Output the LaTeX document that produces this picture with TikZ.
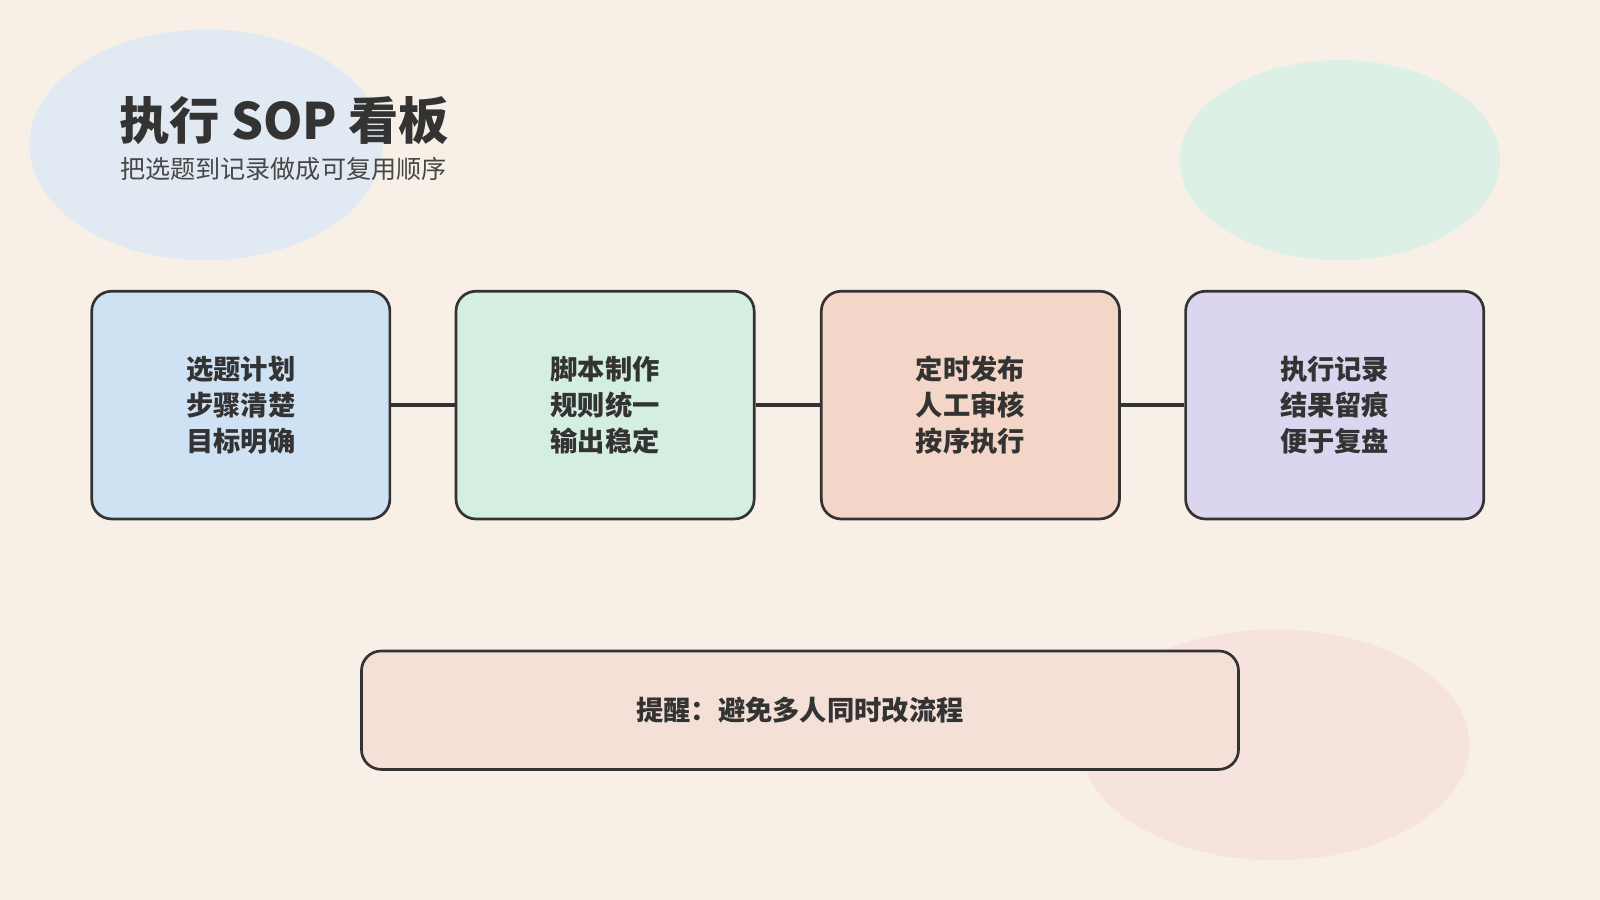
\documentclass[tikz,border=0pt]{standalone}
\usepackage{fontspec}
\setmainfont{Noto Sans CJK SC}
\usetikzlibrary{shapes.geometric}
\definecolor{bg}{HTML}{F8F0E6}
\definecolor{ink}{HTML}{333333}
\tikzset{
 stepbox/.style={draw=ink,line width=0.75pt,rounded corners=5.5pt,minimum width=2.92cm,minimum height=2.23cm,align=center,font=\fontsize{7.6pt}{10pt}\selectfont\bfseries,text=ink,inner sep=0pt},
 link/.style={draw=ink,line width=0.9pt},
 blob/.style={ellipse,draw=none,inner sep=0pt}
}
\begin{document}
\begin{tikzpicture}[x=0.01cm,y=-0.01cm]
\fill[bg] (0,0) rectangle (1568,882);
\useasboundingbox (0,0) rectangle (1568,882);
\node[blob,fill={rgb,255:red,225;green,234;blue,242},minimum width=3.46cm,minimum height=2.26cm] (b1) at (202,142) {};
\node[blob,fill={rgb,255:red,221;green,240;blue,230},minimum width=3.14cm,minimum height=1.96cm] (b2) at (1313,157) {};
\node[blob,fill={rgb,255:red,246;green,227;blue,221},minimum width=3.8cm,minimum height=2.26cm] (b3) at (1250,730) {};
\node[anchor=west,text=ink,font=\fontsize{14pt}{16pt}\selectfont\bfseries,inner sep=0pt] (title) at (116,118) {执行 SOP 看板};
\node[anchor=west,text=ink!90,font=\fontsize{7pt}{9pt}\selectfont,inner sep=0pt] (sub) at (117,166) {把选题到记录做成可复用顺序};
\node[stepbox,fill={rgb,255:red,207;green,226;blue,243}] (s1) at (236,397) {选题计划\\步骤清楚\\目标明确};
\node[stepbox,fill={rgb,255:red,212;green,238;blue,224}] (s2) at (593,397) {脚本制作\\规则统一\\输出稳定};
\node[stepbox,fill={rgb,255:red,244;green,214;blue,200}] (s3) at (951,397) {定时发布\\人工审核\\按序执行};
\node[stepbox,fill={rgb,255:red,220;green,213;blue,239}] (s4) at (1308,397) {执行记录\\结果留痕\\便于复盘};
\draw[link] (s1) -- (s2);
\draw[link] (s2) -- (s3);
\draw[link] (s3) -- (s4);
\node[stepbox,fill={rgb,255:red,244;green,224;blue,214},minimum width=8.59cm,minimum height=1.16cm] (note) at (784,696) {提醒：避免多人同时改流程};
\end{tikzpicture}
\end{document}
